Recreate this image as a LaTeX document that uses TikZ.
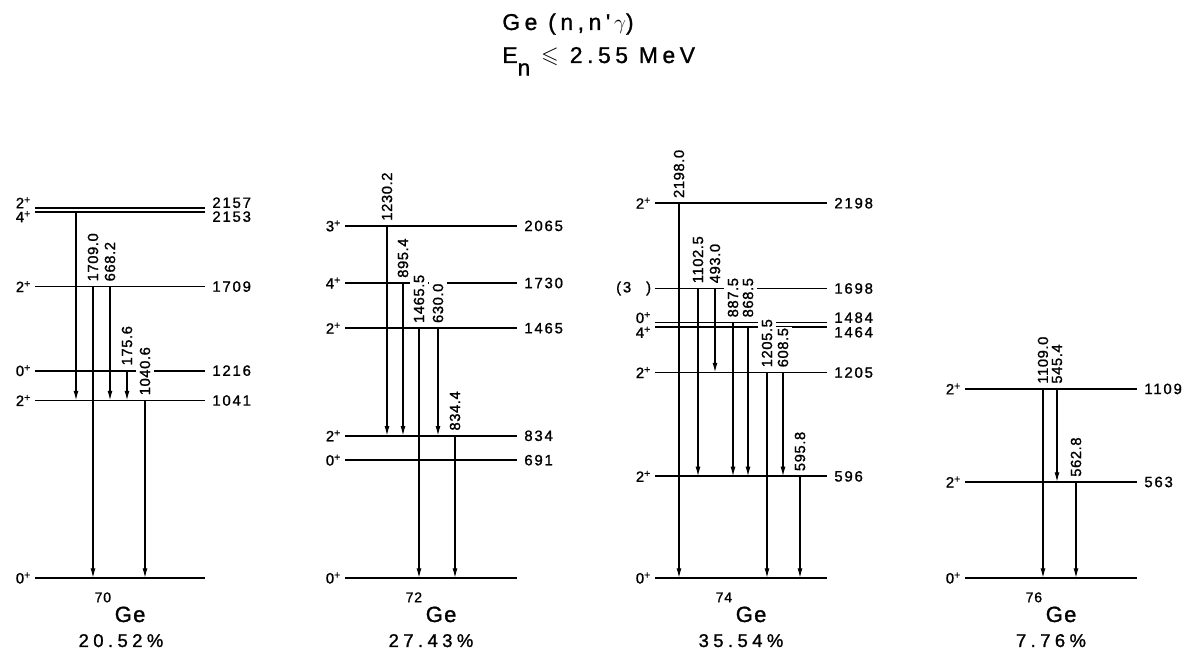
\documentclass[tikz,border=0pt]{standalone}
\usepackage{amssymb}
\usepackage{fontspec}
\setmainfont{Liberation Sans}
\newfontfamily\labfont[LetterSpace=12,FakeBold=1.2]{Liberation Sans}
\newfontfamily\gamfont[LetterSpace=4,FakeBold=1.2]{Liberation Sans}
\newfontfamily\bigfont[LetterSpace=24,FakeBold=1.2]{Liberation Sans}
\newfontfamily\ttlfont[LetterSpace=20,FakeBold=1.2]{Liberation Sans}
\newfontfamily\nucfont[LetterSpace=6,FakeBold=1.2]{Liberation Sans}
\usetikzlibrary{arrows.meta}

\tikzset{
  lev/.style={line width=1pt},
  gline/.style={line width=0.7pt,-{Latex[length=5.5pt,width=2.8pt]}},
  glabel/.style={rotate=90,anchor=west,inner xsep=0.8pt,inner ysep=2pt,fill=white,
    font=\gamfont\fontsize{8.4}{9}\selectfont},
  elabel/.style={anchor=west,inner sep=0pt,xshift=4pt,
    font=\labfont\fontsize{8.5}{9}\selectfont},
  spinlab/.style={anchor=east,inner sep=0pt,xshift=-2pt,
    font=\labfont\fontsize{8.5}{9}\selectfont},
  nuclab/.style={anchor=base,inner sep=0pt,font=\nucfont\fontsize{12.5}{13}\selectfont},
  pctlab/.style={anchor=base,inner sep=0pt,font=\bigfont\fontsize{10.5}{11}\selectfont},
  ttl/.style={anchor=base west,inner sep=0pt,font=\ttlfont\fontsize{13}{14}\selectfont}
}

\newcommand{\spinp}[1]{#1\textsuperscript{+}}
\newcommand{\iso}[1]{\raisebox{0.9em}{\fontsize{8}{8}\selectfont #1}\,Ge}

% level: [label shift] name, x left, x right, energy, spin, energy label
\newcommand{\level}[7][0pt]{%
  \coordinate (#2) at (#3,{lv(#5)});
  \coordinate (#2r) at (#4,{lv(#5)});
  \draw[lev] (#2) -- (#2r);
  \node[spinlab] (#2s) at ([yshift=#1]#2) {#6};
  \node[elabel] (#2n) at ([yshift=#1]#2r) {#7};
}
% gamma: [label shift] name, x, from, to, label
\newcommand{\gam}[6][0pt]{%
  \coordinate (#2x) at (#3,0);
  \coordinate (#2s) at (#2x |- #4);
  \coordinate (#2e) at (#2x |- #5);
  \draw[gline] (#2s) -- (#2e);
  \node[glabel] (#2l) at ([yshift=2pt+#1]#2s) {#6};
}

\begin{document}
\begin{tikzpicture}[x=0.02cm,y=0.02cm,declare function={lv(\e)=0.1705*\e;}]
  \useasboundingbox (0,-74) rectangle (1194,578);

  \node[ttl] (title1) at (502,548) {Ge (n,n'\,$\gamma$)};
  \node[ttl] (title2) at (502,515) {E\raisebox{-0.55em}{n} $\leqslant$ 2.55 MeV};

  % 70Ge
  \level[2.8pt]{a1}{35}{205}{2172}{\spinp{2}}{2157}
  \level[-2.8pt]{a2}{35}{205}{2148}{\spinp{4}}{2153}
  \level{a3}{35}{205}{1709}{\spinp{2}}{1709}
  \level{a4}{35}{205}{1216}{\spinp{0}}{1216}
  \level{a5}{35}{205}{1041}{\spinp{2}}{1041}
  \level{a0}{35}{205}{0}{\spinp{0}}{}
  \coordinate (ta1x) at (76,0);
  \draw[gline] (ta1x |- a2) -- (ta1x |- a5);
  \gam{ta2}{93}{a3}{a0}{1709.0}
  \gam{ta3}{110}{a3}{a5}{668.2}
  \gam{ta4}{127}{a4}{a5}{175.6}
  \gam{ta5}{145}{a5}{a0}{1040.6}
  \node[nuclab] (nuc70) at (120,-44) {\iso{70}};
  \node[pctlab] (pct70) at (121,-69) {20.52\%};

  % 72Ge
  \level{b1}{345}{517}{2065}{\spinp{3}}{2065}
  \level{b2}{345}{517}{1730}{\spinp{4}}{1730}
  \level{b3}{345}{517}{1465}{\spinp{2}}{1465}
  \level{b4}{345}{517}{834}{\spinp{2}}{834}
  \level{b5}{345}{517}{691}{\spinp{0}}{691}
  \level{b0}{345}{517}{0}{\spinp{0}}{}
  \gam{tb1}{387}{b1}{b4}{1230.2}
  \gam{tb2}{403}{b2}{b4}{895.4}
  \gam{tb3}{419}{b3}{b0}{1465.5}
  \gam{tb4}{438}{b3}{b4}{630.0}
  \gam{tb5}{455}{b4}{b0}{834.4}
  \node[nuclab] (nuc72) at (431,-44) {\iso{72}};
  \node[pctlab] (pct72) at (431,-69) {27.43\%};

  % 74Ge
  \level{c1}{655}{827}{2198}{\spinp{2}}{2198}
  \level{c2}{655}{827}{1698}{(3\hspace{1em})}{1698}
  \level[2.8pt]{c3}{655}{827}{1498}{\spinp{0}}{1484}
  \level[-2.8pt]{c4}{655}{827}{1470}{\spinp{4}}{1464}
  \level{c5}{655}{827}{1205}{\spinp{2}}{1205}
  \level{c6}{655}{827}{596}{\spinp{2}}{596}
  \level{c0}{655}{827}{0}{\spinp{0}}{}
  \gam{tc1}{679}{c1}{c0}{2198.0}
  \gam{tc2}{698}{c2}{c6}{1102.5}
  \gam{tc3}{715}{c2}{c5}{493.0}
  \gam{tc4}{733}{c3}{c6}{887.5}
  \gam[2.7pt]{tc5}{748}{c4}{c6}{868.5}
  \gam{tc6}{767}{c5}{c0}{1205.5}
  \gam{tc7}{783}{c5}{c6}{608.5}
  \gam{tc8}{800}{c6}{c0}{595.8}
  \node[nuclab] (nuc74) at (741,-44) {\iso{74}};
  \node[pctlab] (pct74) at (741,-69) {35.54\%};

  % 76Ge
  \level{d1}{965}{1137}{1109}{\spinp{2}}{1109}
  \level{d2}{965}{1137}{563}{\spinp{2}}{563}
  \level{d0}{965}{1137}{0}{\spinp{0}}{}
  \gam{td1}{1043}{d1}{d0}{1109.0}
  \gam{td2}{1057}{d1}{d2}{545.4}
  \gam{td3}{1076}{d2}{d0}{562.8}
  \node[nuclab] (nuc76) at (1051,-44) {\iso{76}};
  \node[pctlab] (pct76) at (1051,-69) {7.76\%};
\end{tikzpicture}
\end{document}
